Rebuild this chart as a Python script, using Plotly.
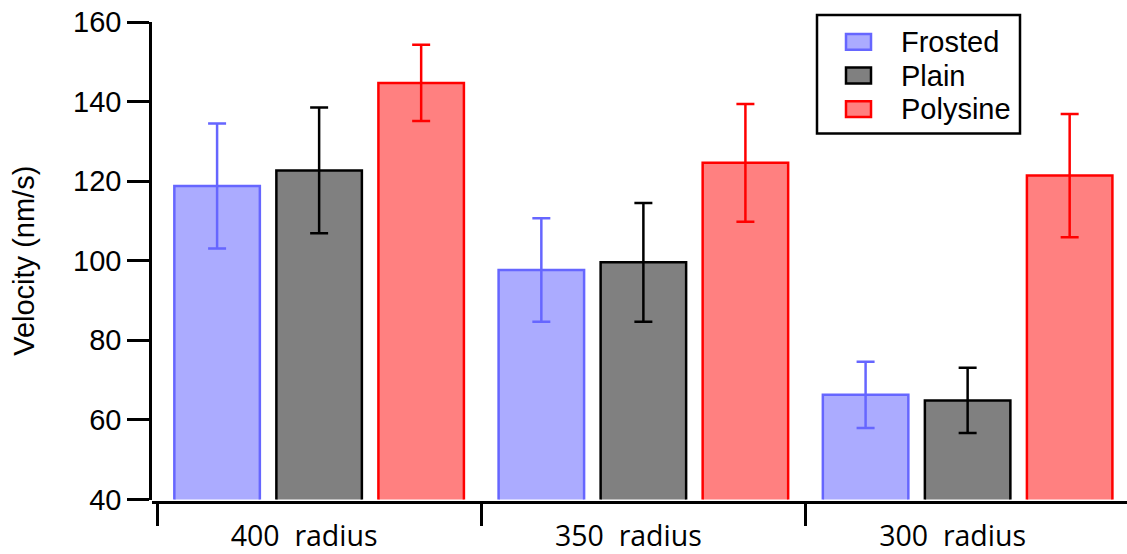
import plotly.graph_objects as go

categories = ["400 radius", "350 radius", "300 radius"]
tick_labels = ["400\u00a0 radius", "350\u00a0 radius", "300\u00a0 radius"]

frosted = [118.8, 97.7, 66.3]
frosted_err = [15.7, 13.0, 8.3]
plain = [122.7, 99.6, 64.9]
plain_err = [15.8, 14.9, 8.2]
polysine = [144.7, 124.6, 121.4]
polysine_err = [9.6, 14.8, 15.5]

W, H = 1127, 554
ML, MR, MT, MB = 152, 0, 22, 49.5
PW = W - ML - MR
PH = H - MT - MB


def px(xp):
    return (xp - ML) / PW


def py(yp):
    return (H - MB - yp) / PH


series = [
    ("Frosted", frosted, frosted_err, "#ababff", "#6666ff"),
    ("Plain", plain, plain_err, "#808080", "#000000"),
    ("Polysine", polysine, polysine_err, "#ff8080", "#ff0000"),
]

fig = go.Figure()
shapes = []
annotations = []

# legend box
shapes.append(dict(type="rect", xref="paper", yref="paper",
                   x0=px(817), x1=px(1020), y0=py(134), y1=py(15),
                   line=dict(color="black", width=2.5), fillcolor="white",
                   layer="above"))

for i, (name, vals, errs, fill, edge) in enumerate(series):
    fig.add_trace(go.Bar(
        name=name, x=categories, y=vals, showlegend=False,
        marker=dict(color=fill, line=dict(color=edge, width=2.5)),
        error_y=dict(type="data", array=errs, visible=True,
                     color=edge, thickness=2.5, width=9),
    ))
    yc = 42 + 33.8 * i
    shapes.append(dict(type="rect", xref="paper", yref="paper",
                       x0=px(846), x1=px(871), y0=py(yc + 8), y1=py(yc - 8),
                       line=dict(color=edge, width=2.5), fillcolor=fill,
                       layer="above"))
    annotations.append(dict(xref="paper", yref="paper", x=px(899), y=py(yc),
                            xanchor="left", yanchor="middle", showarrow=False,
                            text=name, font=dict(size=29, color="black")))

px_per_cat = 324.25
x0 = -0.5 - 5 / px_per_cat
x1 = x0 + PW / px_per_cat

fig.update_layout(
    width=W, height=H,
    margin=dict(l=ML, r=MR, t=MT, b=MB, pad=0),
    paper_bgcolor="white", plot_bgcolor="white",
    font=dict(family="Liberation Sans, Arial", size=29, color="black"),
    barmode="group", bargap=0.056, bargroupgap=0.162,
    showlegend=False,
    shapes=shapes, annotations=annotations,
    xaxis=dict(
        type="category", categoryorder="array", categoryarray=categories,
        tickvals=categories, ticktext=tick_labels,
        range=[x0, x1], domain=[0, 1],
        anchor="free", position=0,
        showline=True, linecolor="black", linewidth=2.5,
        ticks="outside", tickson="boundaries", ticklen=22, tickwidth=2.5,
        tickcolor="black", showgrid=False, zeroline=False,
        tickfont=dict(family="Open Sans", size=28.5, color="black"),
        ticklabelstandoff=8, ticklabelshift=-15,
    ),
    yaxis=dict(
        range=[40, 160], domain=[2.5 / PH, 1],
        anchor="x",
        tickvals=[40, 60, 80, 100, 120, 140, 160],
        showline=True, linecolor="black", linewidth=2.5,
        ticks="outside", ticklen=22, tickwidth=2.5, tickcolor="black",
        showgrid=False, zeroline=False,
        tickfont=dict(size=29),
        title=dict(text="Velocity (nm/s)", font=dict(size=29), standoff=30),
    ),
)

fig.write_html("out.html")
